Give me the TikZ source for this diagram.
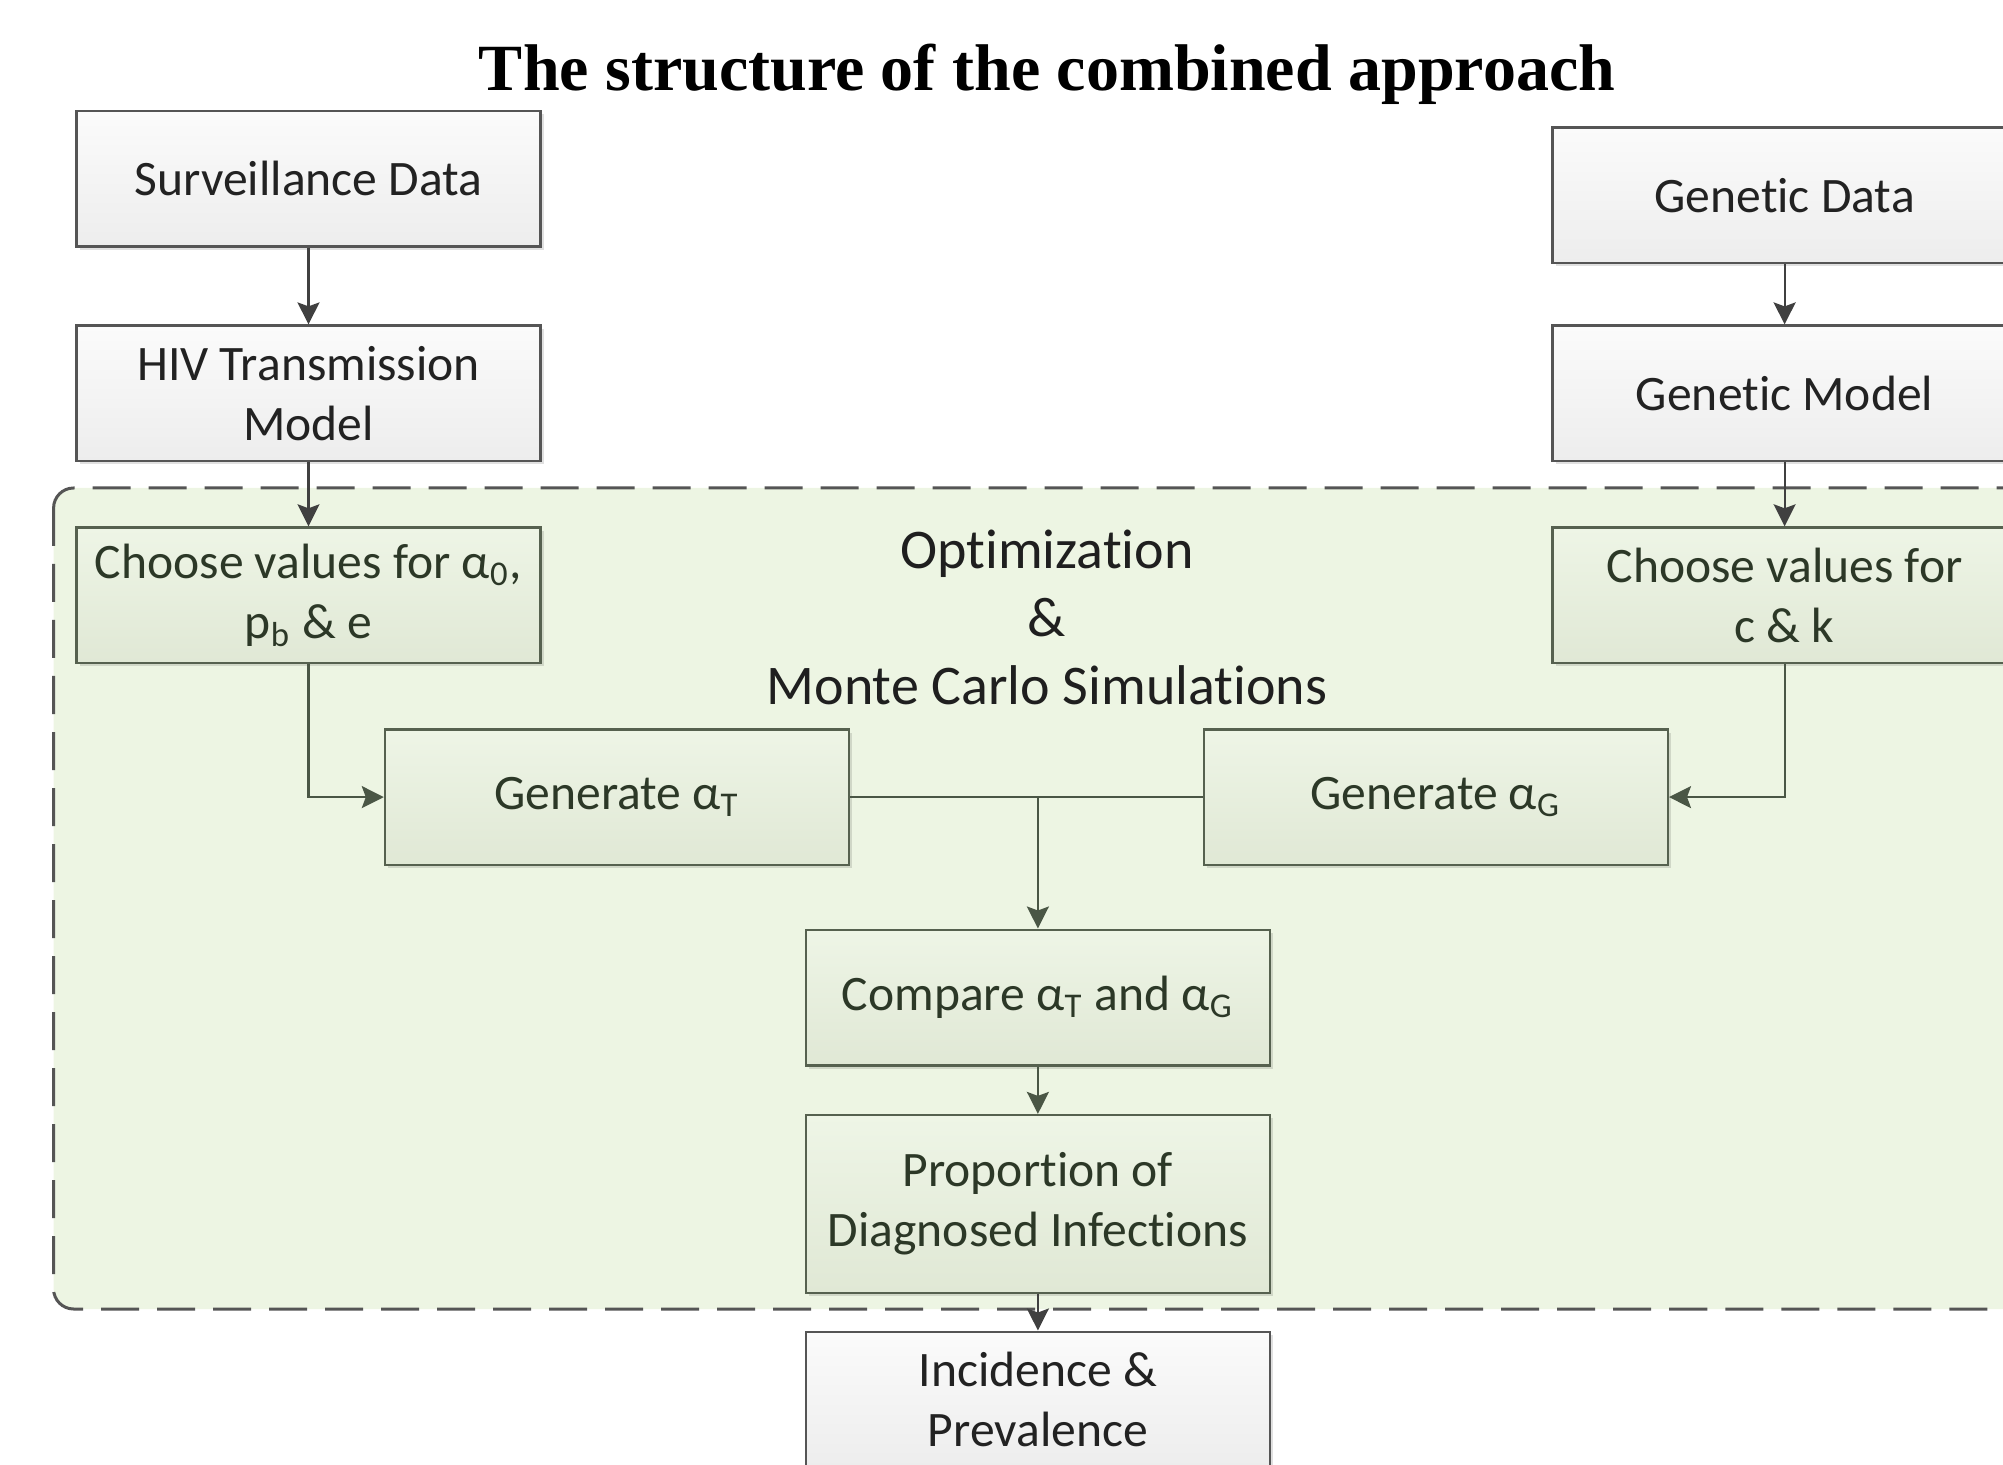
\documentclass[tikz,border=0pt]{standalone}
\usepackage{fontspec}
\setmainfont{Carlito}[Ligatures={NoCommon,NoDiscretionary,NoContextual}]
\newfontfamily\titlefont{Liberation Serif}
\usetikzlibrary{arrows.meta,shadows,calc}
\definecolor{regionfill}{HTML}{EDF5E3}
\definecolor{regionline}{HTML}{555555}
\definecolor{wtop}{HTML}{FBFBFB}
\definecolor{wbot}{HTML}{EDEDED}
\definecolor{gtop}{HTML}{EEF5E6}
\definecolor{gbot}{HTML}{E0E8D5}
\definecolor{wborder}{HTML}{555555}
\definecolor{gborder}{HTML}{56614F}
\definecolor{wtext}{HTML}{222222}
\definecolor{gtext}{HTML}{2C3827}
\definecolor{wline}{HTML}{404040}
\definecolor{gline}{HTML}{4A5645}
\begin{document}
\begin{tikzpicture}[x=0.25pt,y=-0.25pt,
  boxbase/.style={line width=0.6pt, minimum width=116pt, minimum height=33.9pt,
    align=center, inner sep=2pt, font=\fontsize{12.4}{15}\selectfont,
    drop shadow={shadow xshift=0.8pt,shadow yshift=-0.8pt,fill=black,opacity=0.12}},
  wbox/.style={boxbase, draw=wborder, top color=wtop, bottom color=wbot, text=wtext},
  gbox/.style={boxbase, draw=gborder, top color=gtop, bottom color=gbot, text=gtext},
  wconn/.style={draw=wline, line width=0.55pt, -{Stealth[length=5.5pt,width=5.5pt,inset=1pt]}},
  gconn/.style={draw=gline, line width=0.55pt, -{Stealth[length=5.5pt,width=5.5pt,inset=1pt]}},
  gplain/.style={draw=gline, line width=0.55pt}]
\useasboundingbox (0,0) rectangle (2003,1465);
% region
\draw[fill=regionfill, draw=regionline, line width=0.75pt, dash pattern=on 9.5pt off 4.5pt,
  rounded corners=5pt] (53.6,488) rectangle (2150,1309);
% title
\node[font=\titlefont\bfseries\fontsize{16.5}{19}\selectfont] (title) at (1047,74)
  {The structure of the combined approach};
% optimization label
\node[align=center, font=\fontsize{14}{17}\selectfont, text=black!88] (opt) at (1047,617)
  {Optimization\\\&\\Monte Carlo Simulations};
% boxes
\node[wbox] (surv) at (308.5,178.7) {Surveillance Data};
\node[wbox] (hiv) at (308.5,393.4) {HIV Transmission\\Model};
\node[gbox] (chA) at (308.5,595.3) {Choose values for α\textsubscript{0},\\p\textsubscript{b} \& e};
\node[wbox] (gdata) at (1784.6,195.3) {Genetic Data};
\node[wbox] (gmodel) at (1784.6,393.4) {Genetic Model};
\node[gbox] (chCK) at (1784.6,595.3) {Choose values for\\c \& k};
\node[gbox] (genT) at (617,797.1) {Generate α\textsubscript{T}};
\node[gbox] (genG) at (1435.8,797.1) {Generate α\textsubscript{G}};
\node[gbox] (cmp) at (1037.9,997.5) {Compare α\textsubscript{T} and α\textsubscript{G}};
\node[gbox, minimum height=44.4pt] (prop) at (1037.9,1203.9) {Proportion of\\Diagnosed Infections};
\node[wbox] (inc) at (1037.9,1399.5) {Incidence \&\\Prevalence};
% connectors
\draw[wconn] (surv) -- (hiv);
\draw[wconn] (hiv) -- (chA);
\draw[wconn] (gdata) -- (gmodel);
\draw[wconn] (gmodel) -- (chCK);
\draw[gconn] (chA.south) |- (genT.west);
\draw[gconn] (chCK.south) |- (genG.east);
\draw[gplain] (genT.east) -- (genG.west);
\coordinate (junc) at (cmp.north |- genT.east);
\draw[gconn] (junc) -- (cmp.north);
\draw[gconn] (cmp) -- (prop);
\draw[wconn] (prop) -- (inc);
\end{tikzpicture}
\end{document}
